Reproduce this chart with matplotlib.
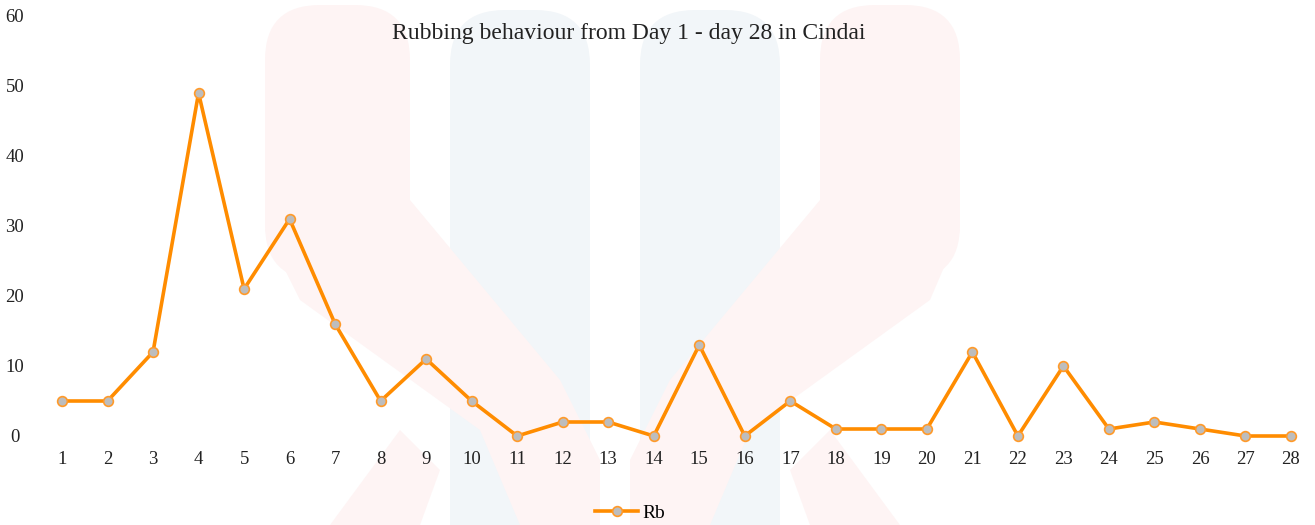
import matplotlib
matplotlib.use('Agg')
import matplotlib.pyplot as plt
from matplotlib.patches import FancyBboxPatch, Polygon

days = list(range(1, 29))
rubbing = [5, 5, 12, 49, 21, 31, 16, 5, 11, 5, 0, 2, 2, 0, 13, 0, 5, 1, 1, 1, 12, 0, 10, 1, 2, 1, 0, 0]
y_ticks = [0, 10, 20, 30, 40, 50, 60]

plt.rcParams['font.family'] = ['Liberation Serif', 'DejaVu Serif']

W, H = 1315, 525
fig = plt.figure(figsize=(W / 100, H / 100), dpi=100)

# very faint watermark behind the chart (pixel coords, y from top)
def px_box(x0, y0, x1, y1, color):
    return FancyBboxPatch((x0 / 100, (H - y1) / 100), (x1 - x0) / 100, (y1 - y0) / 100,
                          boxstyle='round,pad=0,rounding_size=0.55',
                          transform=fig.dpi_scale_trans, facecolor=color, edgecolor='none', zorder=-10)

pink = '#fef4f4'
blue = '#f2f6f9'
fig.patches.append(px_box(450, 10, 590, 600, blue))
fig.patches.append(px_box(640, 10, 780, 600, blue))
fig.patches.append(px_box(265, 5, 410, 280, pink))
fig.patches.append(px_box(820, 5, 960, 280, pink))
for pts in ([(265, 230), (410, 200), (560, 380), (600, 460), (600, 525), (520, 525), (480, 430), (300, 300)],
            [(960, 230), (820, 200), (670, 380), (630, 460), (630, 525), (710, 525), (750, 430), (930, 300)],
            [(330, 525), (400, 430), (440, 470), (420, 525)],
            [(900, 525), (830, 430), (790, 470), (810, 525)]):
    fig.patches.append(Polygon([(x / 100, (H - y) / 100) for x, y in pts], closed=True,
                               transform=fig.dpi_scale_trans, facecolor=pink, edgecolor='none', zorder=-10))

ax = fig.add_axes([62 / W, 89 / H, (1291 - 62) / W, 420 / H])
ax.patch.set_alpha(0)

ax.plot(days, rubbing, color='#ff8c00', linewidth=2.6, marker='o', markersize=7,
        markerfacecolor='#bdbdbd', markeredgecolor='#ff9a2a', markeredgewidth=1.2,
        clip_on=False, label='Rb')

ax.set_xlim(1, 28)
ax.set_ylim(0, 60)
ax.set_xticks(days)
ax.set_yticks(y_ticks)
for s in ax.spines.values():
    s.set_visible(False)
ax.tick_params(axis='both', length=0, labelsize=13.5, colors='#222222')
ax.tick_params(axis='x', pad=11)
for lbl in ax.get_yticklabels():
    lbl.set_horizontalalignment('center')
ax.tick_params(axis='y', pad=34)

fig.text(629 / W, 1 - 33 / H, 'Rubbing behaviour from Day 1 - day 28 in Cindai',
         ha='center', va='center', fontsize=17, color='#222222')

fig.legend(loc='center', bbox_to_anchor=(630 / W, 1 - 513 / H), frameon=False,
           fontsize=14, handlelength=2.2, handletextpad=0.2)

fig.savefig('out.png', dpi=100)
